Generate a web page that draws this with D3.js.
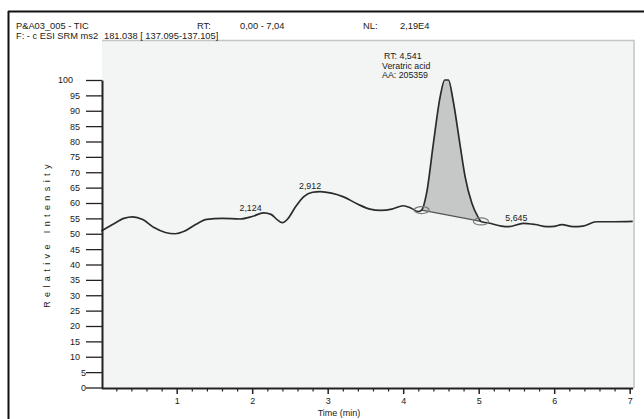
<!DOCTYPE html>
<html>
<head>
<meta charset="utf-8">
<script src="https://cdn.jsdelivr.net/npm/d3@7"></script>
<style>
  html, body { margin: 0; padding: 0; background: #fff; }
  svg { display: block; font-family: "Liberation Sans", Arial, sans-serif; }
  text { fill: #1a1a1a; }
</style>
</head>
<body>
<svg id="chart" width="644" height="419"></svg>
<script>
// Chromatogram trace: retention time (min) and relative intensity (%)
const traceTime = [0.00, 0.15, 0.30, 0.42, 0.55, 0.70, 0.85, 0.98, 1.10, 1.25, 1.40, 1.60, 1.84, 2.00, 2.15, 2.25, 2.33, 2.40, 2.47, 2.57, 2.68, 2.80, 2.90, 3.05, 3.21, 3.40, 3.56, 3.70, 3.85, 4.00, 4.10, 4.20, 4.245, 4.31, 4.40, 4.49, 4.55, 4.60, 4.66, 4.75, 4.82, 4.91, 4.99, 5.03, 5.15, 5.30, 5.40, 5.59, 5.75, 5.90, 6.00, 6.10, 6.25, 6.38, 6.56, 6.78, 7.04];
const traceIntensity = [50.9, 53.0, 55.0, 55.5, 54.6, 52.0, 50.4, 50.0, 50.8, 53.0, 54.7, 55.0, 54.8, 55.6, 56.8, 56.3, 54.6, 53.6, 54.8, 58.6, 62.0, 63.5, 63.7, 63.2, 62.0, 59.6, 58.0, 57.6, 58.0, 59.1, 58.4, 57.2, 57.7, 63.2, 79.4, 94.6, 100, 100, 93.5, 79.4, 68.6, 59.9, 55.5, 54.0, 53.4, 52.5, 52.3, 53.4, 53.0, 52.3, 52.4, 53.0, 52.3, 52.5, 53.9, 53.9, 54.0];

// Integrated peak
const peakStart = 4.245;
const peakEnd = 5.03;
const peakInfo = ["RT: 4,541", "Veratric acid", "AA: 205359"];
const peakRT = 4.541;

// Other labelled retention times
const labelRT = [2.124, 2.912, 5.645];
const labelText = ["2,124", "2,912", "5,645"];

// Header
const headerLine1 = "P&A03_005 - TIC";
const headerLine2 = ["F: - c ESI SRM ms2", "181.038 [ 137.095-137.105]"];
const headerRT = ["RT:", "0,00 - 7,04"];
const headerNL = ["NL:", "2,19E4"];

// Axis ticks
const yTicks = d3.range(0, 101, 5);
const xMajorTicks = [1, 2, 3, 4, 5, 6, 7];
const xMinorTicks = d3.range(0.2, 7.01, 0.2).map(v => +v.toFixed(1)).filter(v => Math.abs(v - Math.round(v)) > 1e-6);
const xDomain = [0, 7.04];
const yDomain = [0, 100];

const svg = d3.select("#chart");

const x = d3.scaleLinear().domain(xDomain).range([101.2, 632.7]);
const y = d3.scaleLinear().domain(yDomain).range([387.5, 80]);

const trace = traceTime.map((t, i) => ({ t, v: traceIntensity[i] }));
const valueAt = t => {
  const i = d3.bisector(d => d.t).left(trace, t);
  if (i <= 0) return trace[0].v;
  if (i >= trace.length) return trace[trace.length - 1].v;
  const a = trace[i - 1], b = trace[i];
  return a.v + (b.v - a.v) * (t - a.t) / (b.t - a.t);
};

// Outer frame (top and left rules)
svg.append("line").attr("x1", 8).attr("x2", 644).attr("y1", 11.5).attr("y2", 11.5)
  .attr("stroke", "#111").attr("stroke-width", 2);
svg.append("line").attr("x1", 8.5).attr("x2", 8.5).attr("y1", 11).attr("y2", 419)
  .attr("stroke", "#111").attr("stroke-width", 2);

// Plot panel
svg.append("rect").attr("x", 102).attr("y", 40.5).attr("width", 532).attr("height", 347.5)
  .attr("fill", "#f3f4f4");
svg.append("path").attr("d", "M102,40.5H634V388")
  .attr("fill", "none").attr("stroke", "#c4c6c6").attr("stroke-width", 1.5);

// Header texts
const hdr = svg.append("g").attr("font-size", 9.3);
hdr.append("text").attr("x", 16).attr("y", 29).text(headerLine1);
hdr.append("text").attr("x", 16).attr("y", 38.5).text(headerLine2[0]);
hdr.append("text").attr("x", 104).attr("y", 38.5).text(headerLine2[1]);
hdr.append("text").attr("x", 197).attr("y", 29).text(headerRT[0]);
hdr.append("text").attr("x", 240).attr("y", 29).text(headerRT[1]);
hdr.append("text").attr("x", 363).attr("y", 29).text(headerNL[0]);
hdr.append("text").attr("x", 400).attr("y", 29).text(headerNL[1]);

// Integrated peak area
const curve = d3.curveMonotoneX;
const peakPts = trace.filter(d => d.t >= peakStart - 1e-9 && d.t <= peakEnd + 1e-9);
const vStart = valueAt(peakStart), vEnd = valueAt(peakEnd);
const baseAt = t => vStart + (vEnd - vStart) * (t - peakStart) / (peakEnd - peakStart);
svg.append("path")
  .datum(peakPts)
  .attr("fill", "#c6c7c7")
  .attr("d", d3.area().curve(curve).x(d => x(d.t)).y0(d => y(baseAt(d.t))).y1(d => y(d.v)));
svg.append("line")
  .attr("x1", x(peakStart)).attr("y1", y(vStart))
  .attr("x2", x(peakEnd)).attr("y2", y(vEnd))
  .attr("stroke", "#555").attr("stroke-width", 1.2);

// Trace
svg.append("path")
  .datum(trace)
  .attr("fill", "none")
  .attr("stroke", "#2b2b2b")
  .attr("stroke-width", 1.7)
  .attr("stroke-linejoin", "round")
  .attr("d", d3.line().curve(curve).x(d => x(d.t)).y(d => y(d.v)));

// Peak boundary markers
[[peakStart, vStart], [peakEnd, vEnd]].forEach(([t, v]) => {
  svg.append("ellipse")
    .attr("cx", x(t)).attr("cy", y(v))
    .attr("rx", 7.5).attr("ry", 3.5)
    .attr("fill", "none").attr("stroke", "#7a7a7a").attr("stroke-width", 1.2);
});

// Peak annotation
const ann = svg.append("g").attr("font-size", 8.8);
peakInfo.forEach((s, i) => {
  ann.append("text").attr("x", x(peakRT) - 62 + (i === 0 ? 2 : 0)).attr("y", 59 + i * 9.5).text(s);
});

// Retention time labels
svg.append("g").attr("font-size", 8.8).attr("text-anchor", "end")
  .selectAll("text").data(labelRT).join("text")
  .attr("x", d => x(d))
  .attr("y", d => y(valueAt(d)) - 2.5)
  .text((d, i) => labelText[i]);

// Y axis
const yAxis = svg.append("g").attr("transform", "translate(102,0)")
  .call(d3.axisLeft(y).tickValues(yTicks).tickSize(16).tickSizeOuter(0).tickFormat(d3.format("d")));
yAxis.select(".domain").attr("stroke", "#222").attr("stroke-width", 2);
yAxis.selectAll(".tick line").attr("stroke", "#222").attr("stroke-width", 1.3);
yAxis.selectAll(".tick text")
  .attr("font-size", 9).attr("font-family", null).attr("fill", "#1a1a1a")
  .attr("x", d => d >= 100 ? -29 : (d < 10 ? -16 : -22));

// X axis (major and minor ticks)
const xAxis = svg.append("g").attr("transform", "translate(0,388)")
  .call(d3.axisBottom(x).tickValues(xMajorTicks).tickSize(6).tickSizeOuter(0).tickPadding(4).tickFormat(d3.format("d")));
xAxis.select(".domain").attr("stroke", "#222").attr("stroke-width", 2);
xAxis.selectAll(".tick line").attr("stroke", "#222").attr("stroke-width", 1.5);
xAxis.selectAll(".tick text").attr("font-size", 9).attr("font-family", null).attr("fill", "#1a1a1a");
const xMinor = svg.append("g").attr("transform", "translate(0,388)")
  .call(d3.axisBottom(x).tickValues(xMinorTicks).tickSize(3.5).tickSizeOuter(0).tickFormat(""));
xMinor.select(".domain").remove();
xMinor.selectAll(".tick line").attr("stroke", "#222").attr("stroke-width", 1.2);

// Axis titles
svg.append("text").attr("x", 339).attr("y", 416).attr("text-anchor", "middle")
  .attr("font-size", 9).text("Time (min)");
svg.append("text")
  .attr("transform", "translate(50,234) rotate(-90)")
  .attr("text-anchor", "middle").attr("font-size", 9)
  .attr("letter-spacing", 4.4)
  .text("Relative  Intensity");
</script>
</body>
</html>
